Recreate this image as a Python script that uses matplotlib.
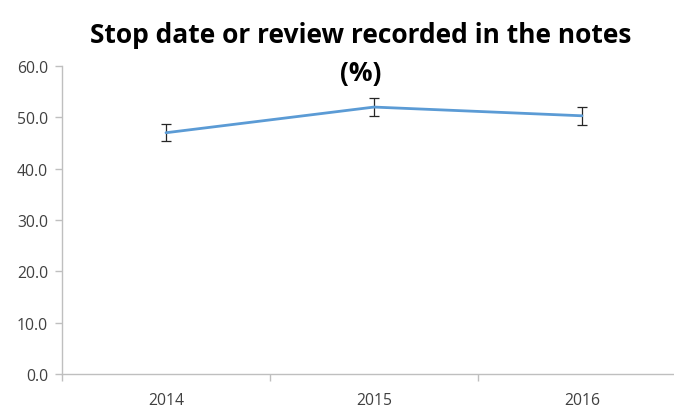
import matplotlib.pyplot as plt
import numpy as np

years = ['2014', '2015', '2016']
values = [47.0, 52.0, 50.3]
errors = [1.65, 1.8, 1.7]

plt.rcParams['font.family'] = ['Open Sans', 'DejaVu Sans']

fig = plt.figure(figsize=(6.74, 4.14), dpi=100)
ax = fig.add_axes([62 / 674, (414 - 375) / 414, 624 / 674, 308 / 414])

x = np.arange(len(years))
ax.plot(x, values, color='#5B9BD5', lw=2.0, solid_capstyle='round', zorder=3)
ax.errorbar(x, values, yerr=errors, fmt='none', ecolor='#262626', elinewidth=0.9,
            capsize=3.5, capthick=0.9, zorder=2)

ax.set_xlim(-0.5, len(years) - 0.5)
ax.set_ylim(0, 60)
ax.set_yticks(np.arange(0, 61, 10))
ax.set_yticklabels([f'{v:.1f}' for v in np.arange(0, 61, 10)])
ax.set_xticks(x)
ax.set_xticklabels(years)
ax.set_xticks(np.arange(-0.5, len(years), 1), minor=True)
ax.tick_params(axis='x', which='major', length=0, pad=13)
ax.tick_params(axis='x', which='minor', length=5, color='#BFBFBF', width=1)
ax.tick_params(axis='y', length=5, color='#BFBFBF', width=1, pad=5)
ax.tick_params(labelsize=11.3, labelcolor='#404040')

for s in ['top', 'right']:
    ax.spines[s].set_visible(False)
for s in ['left', 'bottom']:
    ax.spines[s].set_color('#BFBFBF')
    ax.spines[s].set_linewidth(1)

fig.text(361 / 674, 1 - 36 / 414, 'Stop date or review recorded in the notes',
         ha='center', va='center', fontsize=19, fontweight='bold', color='black')
fig.text(361 / 674, 1 - 73 / 414, '(%)',
         ha='center', va='center', fontsize=19, fontweight='bold', color='black')

fig.savefig('out.png', dpi=100)
